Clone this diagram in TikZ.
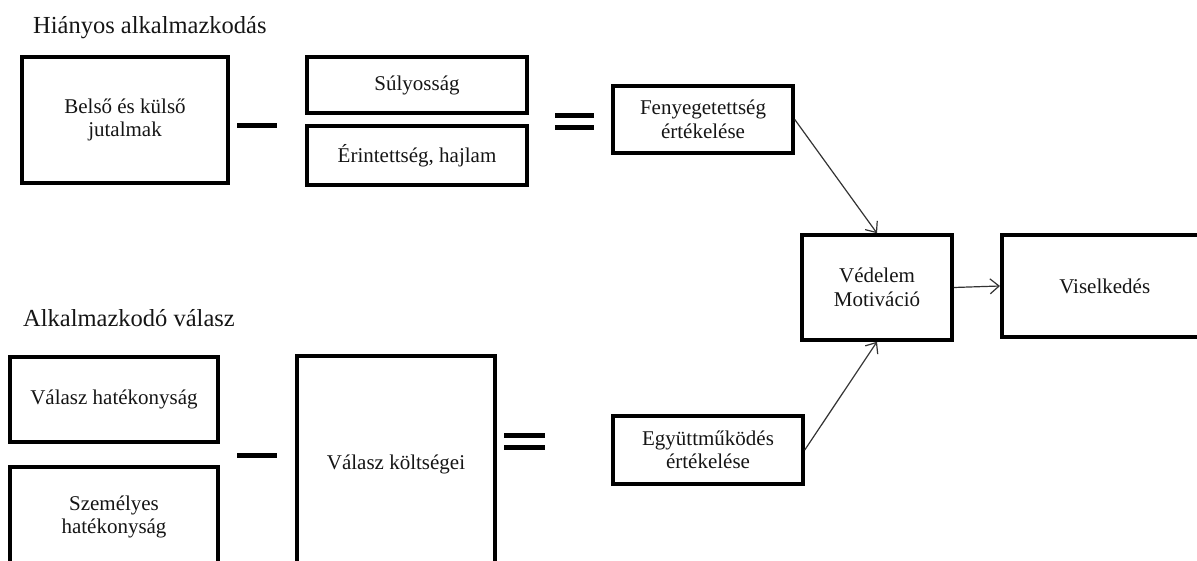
\documentclass[tikz,border=0pt]{standalone}
\usepackage{fontspec}
\setmainfont{Liberation Serif}
\usetikzlibrary{arrows.meta}
\definecolor{ink}{HTML}{151515}
\definecolor{linegray}{HTML}{333333}
\tikzset{
  box/.style={draw=black, line width=3.5pt, rectangle, inner sep=0pt,
    align=center, text=ink, font=\fontsize{21}{23.5}\selectfont},
  heading/.style={anchor=west, inner sep=0pt, text=ink,
    font=\fontsize{24.5}{28}\selectfont},
  opbar/.style={draw=black, line width=5pt},
  arr/.style={draw=linegray, line width=1.2pt,
    -{Straight Barb[length=9pt,width=15pt,line width=1.2pt]}}
}
\begin{document}
\begin{tikzpicture}[x=1pt,y=-1pt]
\useasboundingbox (0,0) rectangle (1197,561);
\clip (0,0) rectangle (1197,561);

% upper row: maladaptive response
\node[heading] (t1) at (33,28) {Hiányos alkalmazkodás};
\node[box, minimum width=206, minimum height=126] (jut) at (125,120) {Belső és külső\\jutalmak};
\node[box, minimum width=220, minimum height=56] (sul) at (417,85) {Súlyosság};
\node[box, minimum width=220, minimum height=59] (eri) at (417,155.5) {Érintettség, hajlam};
\node[box, minimum width=180, minimum height=67] (feny) at (703,119.5) {Fenyegetettség\\értékelése};

% operators of the upper row
\coordinate (m1a) at (237,126);
\coordinate (m1b) at (277,126);
\draw[opbar] (m1a) -- (m1b);
\coordinate (e1a) at (555,116);
\coordinate (e1b) at (594,116);
\coordinate (e1c) at (555,128);
\coordinate (e1d) at (594,128);
\draw[opbar] (e1a) -- (e1b);
\draw[opbar] (e1c) -- (e1d);

% lower row: adaptive response
\node[heading] (t2) at (23,318) {Alkalmazkodó válasz};
\node[box, minimum width=208, minimum height=85] (vh) at (114,399.5) {Válasz hatékonyság};
\node[box, minimum width=208, minimum height=100] (szem) at (114,517) {Személyes\\hatékonyság};
\node[box, minimum width=198, minimum height=216] (vk) at (396,464) {Válasz költségei};
\node[box, minimum width=190, minimum height=68] (egy) at (708,450) {Együttműködés\\értékelése};

% operators of the lower row
\coordinate (m2a) at (237,455);
\coordinate (m2b) at (277,455);
\draw[opbar] (m2a) -- (m2b);
\coordinate (e2a) at (504,435);
\coordinate (e2b) at (545,435);
\coordinate (e2c) at (504,447);
\coordinate (e2d) at (545,447);
\draw[opbar] (e2a) -- (e2b);
\draw[opbar] (e2c) -- (e2d);

% motivation and behaviour (the behaviour box runs past the right edge)
\node[box, minimum width=150, minimum height=105] (ved) at (877,287.5) {Védelem\\Motiváció};
\node[box, minimum width=236, minimum height=102, anchor=west] (vis) at (1000,286)
  {\makebox[206pt]{Viselkedés}\hspace*{30pt}};

\draw[arr] (feny.east) -- (ved.north);
\draw[arr] (egy.east) -- (ved.south);
\draw[arr] (ved.east) -- (vis.west);
\end{tikzpicture}
\end{document}
